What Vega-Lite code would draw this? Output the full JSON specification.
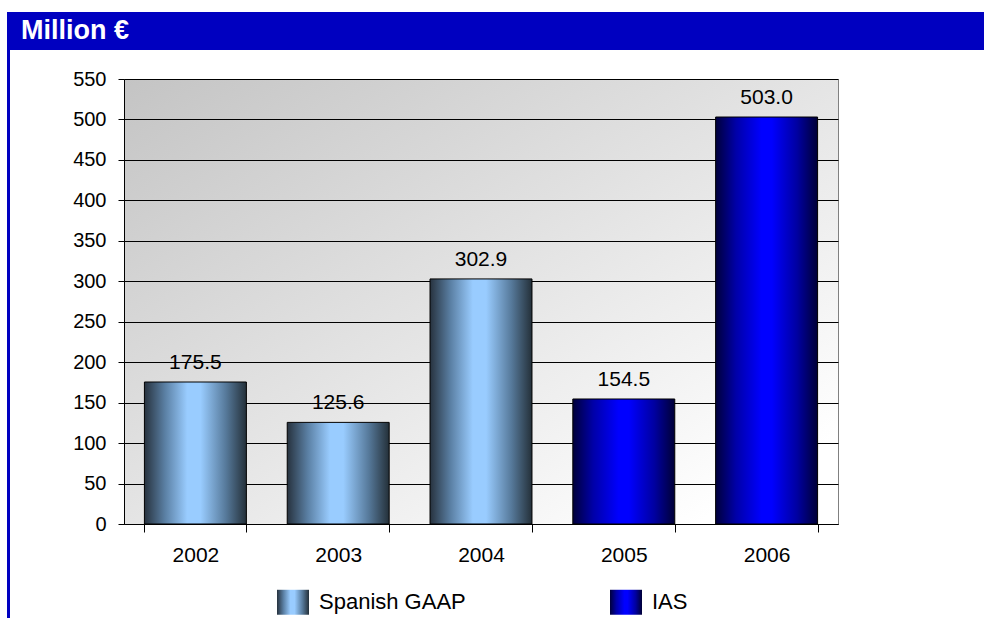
{
  "$schema": "https://vega.github.io/schema/vega-lite/v6.json",
  "padding": {"left": 7, "top": 12, "right": 0, "bottom": 0},
  "background": "white",
  "spacing": 0,
  "bounds": "flush",
  "config": {"font": "Liberation Sans"},
  "hconcat": [
    {
      "width": 3,
      "height": 606,
      "data": {"values": []},
      "mark": "rect",
      "view": {"fill": "#0000c0", "stroke": null}
    },
    {
      "spacing": 29,
      "bounds": "flush",
      "vconcat": [
        {
          "width": 974,
          "height": 38,
          "data": {"values": [{"t": "Million €"}]},
          "mark": {"type": "text", "align": "left", "baseline": "middle", "dx": -476, "fontSize": 27, "fontWeight": "bold", "font": "Liberation Sans", "color": "white"},
          "encoding": {"text": {"field": "t"}},
          "view": {"fill": "#0000c0", "stroke": null}
        },
        {
          "spacing": 0,
          "bounds": "flush",
          "hconcat": [
            {
              "width": 114,
              "height": 10,
              "data": {"values": []},
              "mark": "rect",
              "view": {"stroke": null}
            },
            {
              "width": 714,
              "height": 445,
              "data": {
                "values": [
                  {"year": "2002", "value": 175.5, "standard": "Spanish GAAP"},
                  {"year": "2003", "value": 125.6, "standard": "Spanish GAAP"},
                  {"year": "2004", "value": 302.9, "standard": "Spanish GAAP"},
                  {"year": "2005", "value": 154.5, "standard": "IAS"},
                  {"year": "2006", "value": 503.0, "standard": "IAS"}
                ]
              },
              "view": {
                "fill": {"gradient": "linear", "x1": 0, "y1": 0, "x2": 1, "y2": 1, "stops": [{"offset": 0, "color": "#c4c4c4"}, {"offset": 0.9, "color": "#ffffff"}, {"offset": 1, "color": "#ffffff"}]},
                "stroke": "#808080"
              },
              "encoding": {
                "x": {
                  "field": "year", "type": "ordinal",
                  "scale": {"paddingInner": 0.286, "paddingOuter": 0.143},
                  "axis": {"title": null, "labelAngle": 0, "tickBand": "extent", "tickSize": 8, "tickColor": "#000", "domainColor": "#000", "labelFontSize": 21, "labelColor": "#000", "labelPadding": 12, "labelFont": "Liberation Sans"}
                },
                "y": {
                  "field": "value", "type": "quantitative",
                  "scale": {"domain": [0, 550], "nice": false},
                  "axis": {"title": null, "values": [0, 50, 100, 150, 200, 250, 300, 350, 400, 450, 500, 550], "tickSize": 6, "tickColor": "#000", "domainColor": "#000", "gridColor": "#000", "gridOpacity": 1, "labelFontSize": 20, "labelColor": "#000", "labelPadding": 12, "labelFont": "Liberation Sans"}
                }
              },
              "layer": [
                {
                  "mark": {"type": "bar", "stroke": "#000", "strokeWidth": 1},
                  "encoding": {
                    "fill": {
                      "field": "standard", "type": "nominal",
                      "scale": {
                        "domain": ["Spanish GAAP", "IAS"],
                        "range": [
                          {"expr": "{gradient: 'linear', x1: 0, y1: 0, x2: 1, y2: 0, stops: [{offset: 0, color: '#27323e'}, {offset: 0.2, color: '#5a7fa3'}, {offset: 0.42, color: '#99ccff'}, {offset: 0.55, color: '#99ccff'}, {offset: 0.8, color: '#56799a'}, {offset: 1, color: '#243039'}]}"},
                          {"expr": "{gradient: 'linear', x1: 0, y1: 0, x2: 1, y2: 0, stops: [{offset: 0, color: '#00003a'}, {offset: 0.2, color: '#0000a8'}, {offset: 0.45, color: '#0000ff'}, {offset: 0.55, color: '#0000ff'}, {offset: 0.8, color: '#0000a0'}, {offset: 1, color: '#000036'}]}"}
                        ]
                      },
                      "legend": {
                        "title": null, "orient": "none", "legendX": 270, "legendY": 574, "direction": "horizontal", "padding": 0,
                        "symbolType": "M-1,-0.78H1V0.78H-1Z", "symbolSize": 1024, "symbolStrokeWidth": 0,
                        "labelFontSize": 22, "labelColor": "#000", "labelFont": "Liberation Sans", "labelOffset": 10, "columnPadding": 144, "labelLimit": 300
                      }
                    }
                  }
                },
                {
                  "mark": {"type": "text", "baseline": "bottom", "dy": -9, "fontSize": 21, "font": "Liberation Sans", "color": "#000"},
                  "encoding": {"text": {"field": "value", "type": "quantitative", "format": ".1f"}}
                }
              ]
            }
          ]
        }
      ]
    }
  ]
}
